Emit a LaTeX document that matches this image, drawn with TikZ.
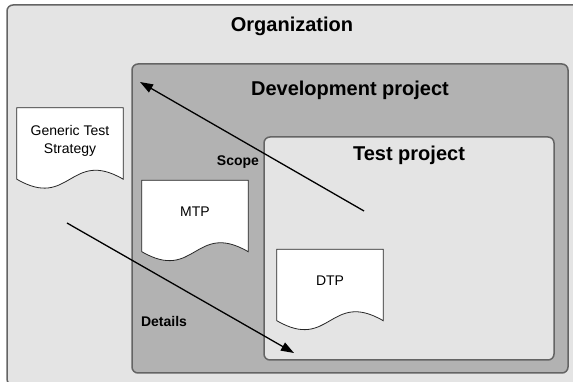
\documentclass[tikz,border=0pt]{standalone}
\usepackage{fontspec}
\setmainfont{Liberation Sans}
\usetikzlibrary{arrows.meta}
\definecolor{orgFill}{RGB}{228,228,228}
\definecolor{devFill}{RGB}{178,178,178}
\definecolor{frameLine}{RGB}{100,100,100}
\pgfdeclarelayer{back}
\pgfdeclarelayer{paper}
\pgfsetlayers{back,paper,main}

\begin{document}
\begin{tikzpicture}[x=1pt, y=1pt,
    box/.style={draw=frameLine, line width=1.5pt, rounded corners=6pt, inner sep=0pt},
    title/.style={font=\fontsize{20}{24}\selectfont\bfseries, anchor=base},
    tag/.style={font=\fontsize{14}{17}\selectfont\bfseries, anchor=base},
    doc/.style={minimum width=106pt, minimum height=71pt, inner sep=0pt, align=center,
      text depth=8pt, font=\fontsize{14}{18}\selectfont},
    sheet/.style={draw=black!85, fill=white, line width=0.8pt},
    arr/.style={-{Triangle[length=13pt, width=9pt]}, line width=1.3pt}
  ]
    \useasboundingbox (0,0) rectangle (573,382);
    \begin{pgfonlayer}{back}
      \node[box, fill=orgFill, minimum width=575pt, minimum height=380pt] (org) at (294.5,187) {};
      \node[box, fill=devFill, minimum width=436pt, minimum height=309pt] (dev) at (350,163.5) {};
      \node[box, fill=orgFill, minimum width=290pt, minimum height=223pt] (test) at (409,133.5) {};
    \end{pgfonlayer}
    \node[title] (orgTitle) at (292,350) {Organization};
    \node[title] (devTitle) at (350,286) {Development project};
    \node[title] (testTitle) at (409,221) {Test project};
    \node[doc] (gts) at (70,238.5) {Generic Test\\Strategy};
    \node[doc] (mtp) at (195,166) {MTP};
    \node[doc] (dtp) at (330,97) {DTP};
    \begin{pgfonlayer}{paper}
      \foreach \d in {gts,mtp,dtp}
        \draw[sheet] (\d.south west) -- (\d.north west) -- (\d.north east) -- (\d.south east)
          .. controls ([yshift=31pt]\d.south) and ([yshift=-31pt]\d.south) .. (\d.south west) -- cycle;
    \end{pgfonlayer}
    \node[tag] (scope) at (238,216) {Scope};
    \node[tag] (details) at (164,55) {Details};
    \coordinate (scopeTail) at (364,171);
    \coordinate (scopeHead) at (140,300);
    \coordinate (detailTail) at (67,159);
    \coordinate (detailHead) at (294,29);
    \draw[arr] (scopeTail) -- (scopeHead);
    \draw[arr] (detailTail) -- (detailHead);
  \end{tikzpicture}
\end{document}
